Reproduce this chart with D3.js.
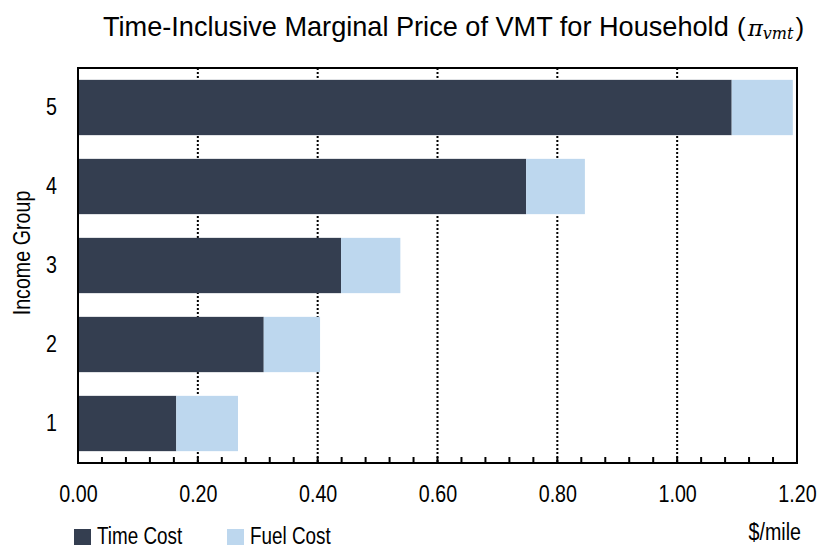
<!DOCTYPE html>
<html>
<head>
<meta charset="utf-8">
<script src="https://cdn.jsdelivr.net/npm/d3@7"></script>
<style>
  body { margin: 0; background: #fff; }
  text { font-family: "Liberation Sans", Arial, sans-serif; fill: #000; }
</style>
</head>
<body>
<script>
const width = 820;
const height = 548;
const margin = {left: 78, top: 68, right: 23, bottom: 85};
const narrow = 0.82; // reference uses a narrow face, squeeze Liberation Sans

const groups = ["1", "2", "3", "4", "5"];
const timeCost = [0.164, 0.310, 0.439, 0.748, 1.091];
const fuelCost = [0.103, 0.094, 0.099, 0.098, 0.102];
const xTicks = [0, 0.2, 0.4, 0.6, 0.8, 1.0, 1.2];
const seriesNames = ["Time Cost", "Fuel Cost"];
const colors = ["#343e50", "#bdd7ee"];

const svg = d3.select("body").append("svg").attr("width", width).attr("height", height);

const x = d3.scaleLinear().domain([0, 1.2]).range([margin.left, width - margin.right]);
const y = d3.scaleBand().domain(groups.slice().reverse())
  .range([margin.top, height - margin.bottom]).paddingInner(0.3).paddingOuter(0.15);

const rows = groups.map((g, i) => ({g: g, t: timeCost[i], f: fuelCost[i]}));

// squeezed text at (px,py)
function label(px, py, txt, size, anchor) {
  return svg.append("text")
    .attr("transform", `translate(${px},${py}) scale(${narrow},1)`)
    .attr("text-anchor", anchor || "start")
    .style("font-size", size + "px").text(txt);
}

// dotted gridlines
svg.append("g").selectAll("line").data(xTicks.slice(1, -1)).enter().append("line")
  .attr("x1", d => x(d)).attr("x2", d => x(d))
  .attr("y1", margin.top).attr("y2", height - margin.bottom)
  .attr("stroke", "#000").attr("stroke-width", 2).attr("stroke-dasharray", "2,2");

// bars
const bars = svg.append("g");
bars.selectAll(".time").data(rows).enter().append("rect")
  .attr("x", x(0)).attr("y", d => y(d.g))
  .attr("width", d => x(d.t) - x(0)).attr("height", y.bandwidth())
  .attr("fill", colors[0]);
bars.selectAll(".fuel").data(rows).enter().append("rect")
  .attr("x", d => x(d.t)).attr("y", d => y(d.g))
  .attr("width", d => x(d.t + d.f) - x(d.t)).attr("height", y.bandwidth())
  .attr("fill", colors[1]);

// frame
svg.append("rect")
  .attr("x", margin.left).attr("y", margin.top)
  .attr("width", width - margin.right - margin.left).attr("height", height - margin.bottom - margin.top)
  .attr("fill", "none").attr("stroke", "#000").attr("stroke-width", 2);

// minor ticks pointing inward
svg.append("g").selectAll("line").data(d3.range(0, 1.2001, 0.04)).enter().append("line")
  .attr("x1", d => x(d)).attr("x2", d => x(d))
  .attr("y1", height - margin.bottom).attr("y2", height - margin.bottom - 6)
  .attr("stroke", "#000").attr("stroke-width", 2);

// x axis labels
const xAxis = d3.axisBottom(x).tickValues(xTicks).tickFormat(d3.format(".2f")).tickSize(0).tickPadding(22);
const gx = svg.append("g").attr("transform", `translate(0,${height - margin.bottom})`).call(xAxis);
gx.select(".domain").remove();
gx.selectAll("text").style("font-size", "24px").attr("transform", `scale(${narrow},1)`);

// y axis labels
const yAxis = d3.axisLeft(y).tickSize(0).tickPadding(21);
const gy = svg.append("g").attr("transform", `translate(${margin.left},0)`).call(yAxis);
gy.select(".domain").remove();
gy.selectAll("text").style("font-size", "24px")
  .attr("x", -21 / narrow).attr("transform", `scale(${narrow},1)`);

svg.append("text")
  .attr("transform", `translate(30,253) rotate(-90) scale(${narrow},1)`)
  .attr("text-anchor", "middle").style("font-size", "24px")
  .text("Income Group");

// title: squeeze main part to fit 103..729
const title = svg.append("text").style("font-size", "28px")
  .text("Time-Inclusive Marginal Price of VMT for Household");
const tw = title.node().getComputedTextLength() || 680;
title.attr("transform", `translate(103,36) scale(${626 / tw},1)`);

const tail = svg.append("text").attr("x", 737).attr("y", 36).style("font-size", "26px");
tail.append("tspan").text("(");
tail.append("tspan").attr("dx", 2)
  .style("font-family", "DejaVu Serif, serif").style("font-style", "italic").style("font-size", "23px")
  .text("π");
tail.append("tspan").attr("dy", 3)
  .style("font-family", "DejaVu Serif, serif").style("font-style", "italic").style("font-size", "16px")
  .text("vmt");
tail.append("tspan").attr("dy", -3).attr("dx", 2).text(")");

// unit
label(801, 540, "$/mile", 24, "end");

// legend
const legX = [74, 227];
const leg = svg.append("g").selectAll("g").data(seriesNames).enter().append("g")
  .attr("transform", (d, i) => `translate(${legX[i]},529)`);
leg.append("rect").attr("width", 17).attr("height", 16).attr("fill", (d, i) => colors[i]);
leg.append("text").attr("transform", `translate(23,15) scale(${narrow},1)`)
  .style("font-size", "23px").text(d => d);
</script>
</body>
</html>
